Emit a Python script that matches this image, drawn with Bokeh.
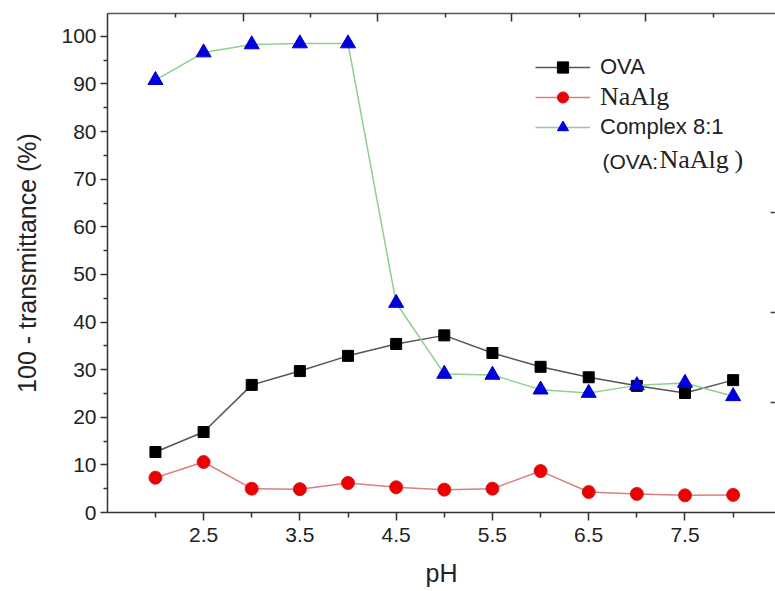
from bokeh.plotting import figure
from bokeh.models import Range1d, LinearAxis, FixedTicker, Legend, LegendItem, Label
from bokeh.embed import file_html
from bokeh.resources import INLINE

# ---- data ----
ph = [2.0, 2.5, 3.0, 3.5, 4.0, 4.5, 5.0, 5.5, 6.0, 6.5, 7.0, 7.5, 8.0]
ova = [12.7, 16.9, 26.8, 29.7, 32.9, 35.4, 37.2, 33.5, 30.6, 28.4, 26.6, 25.1, 27.8]
naalg = [7.3, 10.6, 5.0, 4.9, 6.2, 5.3, 4.8, 5.0, 8.7, 4.3, 3.9, 3.6, 3.7]
complex81 = [90.8, 96.6, 98.3, 98.5, 98.5, 44.0, 29.1, 28.9, 25.8, 25.1, 26.7, 27.2, 24.4]

x_major = [2.5, 3.5, 4.5, 5.5, 6.5, 7.5]
x_minor = [2.0, 3.0, 4.0, 5.0, 6.0, 7.0, 8.0]
y_major = [0, 10, 20, 30, 40, 50, 60, 70, 80, 90, 100]
y_minor = [5, 15, 25, 35, 45, 55, 65, 75, 85, 95]
top_major = [2.91, 4.305, 5.697, 7.088]
top_minor = [2.21, 3.61, 5.01, 6.40, 7.80]
right_ticks = [23.1, 42.0, 63.0]

FONT = "Liberation Sans"
SERIF = "Liberation Serif"

p = figure(width=775, height=591, x_range=Range1d(1.502, 8.44), y_range=Range1d(0, 104.8),
           output_backend="svg", toolbar_location=None,
           min_border_left=107, min_border_right=0, min_border_top=13, min_border_bottom=79)
p.xgrid.visible = False
p.ygrid.visible = False
p.outline_line_color = None
p.background_fill_color = "white"
p.border_fill_color = "white"

# bottom axis
xa = p.xaxis[0]
xa.ticker = FixedTicker(ticks=x_major, minor_ticks=x_minor)
xa.axis_label = "pH"
xa.axis_label_text_font = FONT
xa.axis_label_text_font_style = "normal"
xa.axis_label_text_font_size = "25px"
xa.axis_label_text_color = "#222222"
xa.axis_label_standoff = 14
xa.major_label_text_font = FONT
xa.major_label_text_font_size = "21px"
xa.major_label_text_color = "#222222"
xa.major_label_standoff = 7
xa.axis_line_color = "#333333"
xa.axis_line_width = 1.5
xa.major_tick_line_color = "#333333"
xa.minor_tick_line_color = "#333333"
xa.major_tick_line_width = 1.5
xa.minor_tick_line_width = 1.5
xa.major_tick_out = 8
xa.major_tick_in = 0
xa.minor_tick_out = 5
xa.minor_tick_in = 0

# left axis
ya = p.yaxis[0]
ya.ticker = FixedTicker(ticks=y_major, minor_ticks=y_minor)
ya.axis_label = "100 - transmittance (%)"
ya.axis_label_text_font = FONT
ya.axis_label_text_font_style = "normal"
ya.axis_label_text_font_size = "25px"
ya.axis_label_text_color = "#222222"
ya.axis_label_standoff = 17
ya.major_label_text_font = FONT
ya.major_label_text_font_size = "21px"
ya.major_label_text_color = "#222222"
ya.major_label_standoff = 4
ya.axis_line_color = "#333333"
ya.axis_line_width = 1.5
ya.major_tick_line_color = "#333333"
ya.minor_tick_line_color = "#333333"
ya.major_tick_line_width = 1.5
ya.minor_tick_line_width = 1.5
ya.major_tick_out = 7
ya.major_tick_in = 0
ya.minor_tick_out = 4
ya.minor_tick_in = 0

# top axis (frame line with inward ticks, no labels)
ta = LinearAxis(ticker=FixedTicker(ticks=top_major, minor_ticks=top_minor),
                major_label_overrides={t: "" for t in top_major})
ta.major_label_standoff = 0
ta.axis_line_color = "#555555"
ta.axis_line_width = 1.5
ta.major_tick_line_color = "#333333"
ta.minor_tick_line_color = "#333333"
ta.major_tick_line_width = 1.5
ta.minor_tick_line_width = 1.5
ta.major_tick_out = 0
ta.major_tick_in = 8
ta.minor_tick_out = 0
ta.minor_tick_in = 4
p.add_layout(ta, "above")

# right axis (no line, inward ticks only)
ra = LinearAxis(ticker=FixedTicker(ticks=right_ticks, minor_ticks=[]),
                major_label_overrides={t: "" for t in right_ticks})
ra.major_label_standoff = 0
ra.axis_line_color = None
ra.axis_line_alpha = 0
ra.major_tick_line_color = "#444444"
ra.major_tick_line_width = 1.5
ra.major_tick_out = 0
ra.major_tick_in = 5
p.add_layout(ra, "right")

# series
l1 = p.line(ph, ova, line_color="#555555", line_width=1.5)
s1 = p.scatter(ph, ova, marker="square", size=11, fill_color="black", line_color="black")
l2 = p.line(ph, naalg, line_color="#d98080", line_width=1.5)
s2 = p.scatter(ph, naalg, marker="circle", size=13, fill_color="#ee0000", line_color="#cc2222")
l3 = p.line(ph, complex81, line_color="#8fd08f", line_width=1.5)
s3 = p.scatter(ph, complex81, marker="triangle", size=15, fill_color="#0000dd", line_color="#0000cc")

def make_legend(label, rends, loc, font, size):
    lg = Legend(items=[LegendItem(label=label, renderers=rends)], location=loc,
                orientation="vertical")
    lg.background_fill_alpha = 0
    lg.border_line_color = None
    lg.padding = 0
    lg.margin = 0
    lg.spacing = 0
    lg.glyph_width = 55
    lg.glyph_height = 28
    lg.label_height = 28
    lg.label_standoff = 10
    lg.label_text_font = font
    lg.label_text_font_size = size
    lg.label_text_color = "#222222"
    lg.label_text_baseline = "middle"
    return lg

# frame bottom-left is at (107, 512) on canvas
p.add_layout(make_legend("OVA", [l1, s1], (428, 512 - 81), FONT, "22px"))
p.add_layout(make_legend("NaAlg", [l2, s2], (428, 512 - 112), SERIF, "26px"))
p.add_layout(make_legend("Complex 8:1", [l3, s3], (428, 512 - 141), FONT, "22px"))

p.add_layout(Label(x=495, y=512 - 172, x_units="screen", y_units="screen", text="(OVA:",
                   text_font=FONT, text_font_size="21px", text_color="#222222",
                   text_baseline="bottom"))
p.add_layout(Label(x=552, y=512 - 173, x_units="screen", y_units="screen", text="NaAlg",
                   text_font=SERIF, text_font_size="26px", text_color="#222222",
                   text_baseline="bottom"))
p.add_layout(Label(x=627, y=512 - 173, x_units="screen", y_units="screen", text=")",
                   text_font=SERIF, text_font_size="26px", text_color="#222222",
                   text_baseline="bottom"))

open("out.html", "w").write(file_html(p, INLINE))
